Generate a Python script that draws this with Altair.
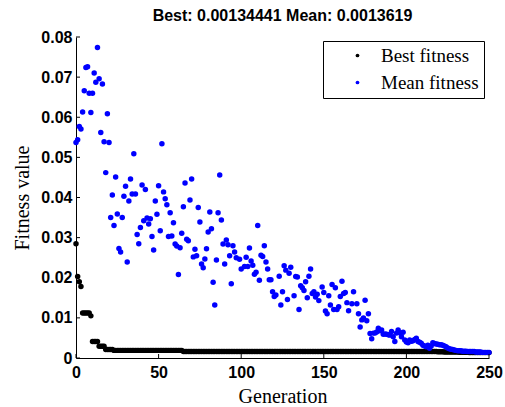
import altair as alt
import pandas as pd

# ---- data ----
best_runs = [  # (value, number of consecutive generations), generations 0..250
    (0.0285, 1), (0.0203, 1), (0.0190, 1), (0.0178, 1), (0.0112, 5), (0.0105, 1),
    (0.0041, 4), (0.0029, 4), (0.0021, 5), (0.0019, 42), (0.0016, 154),
    (0.00158, 4), (0.00152, 4), (0.00147, 5), (0.00142, 6), (0.00138, 7), (0.00134, 6),
]

mean_gen = [
    0, 1, 2, 3, 4, 5, 6, 7, 8, 9, 10, 11, 12, 13, 14, 15, 16, 17, 18, 19,
    20, 21, 22, 23, 24, 25, 26, 27, 28, 29, 30, 31, 32, 33, 34, 35, 36, 37, 38, 39,
    40, 41, 42, 43, 44, 45, 46, 47, 48, 49, 50, 51, 52, 53, 54, 55, 56, 57, 58, 59,
    60, 61, 62, 63, 64, 65, 66, 67, 68, 69, 70, 71, 72, 73, 74, 75, 76, 77, 78, 79,
    80, 81, 82, 83, 84, 85, 86, 87, 88, 89, 90, 91, 92, 93, 94, 95, 96, 97, 99,
    100, 102, 103, 104, 105, 106, 107, 108, 109, 110, 111, 112, 113, 114, 115, 116, 117, 118, 119,
    120, 121, 123, 124, 125, 126, 127, 128, 129, 130, 132, 133, 134, 135, 136, 137, 138, 139,
    140, 141, 142, 143, 144, 145, 146, 147, 149, 150, 151, 152, 153, 154, 155, 156, 157, 158, 159,
    160, 161, 162, 163, 164, 165, 167, 168, 170, 171, 172, 173, 174, 175, 176, 177, 178, 179,
    180, 181, 182, 183, 184, 185, 186, 187, 188, 189, 190, 191, 192, 193, 194, 195, 196, 197, 198, 199,
    200, 201, 202, 203, 204, 205, 206, 207, 208, 209, 210, 211, 212, 213, 214, 215, 216, 217, 218, 219,
    220, 221, 222, 223, 224, 225, 226, 227, 228, 229, 230, 231, 232, 233, 234, 235, 236, 237, 238, 239,
    240, 241, 242, 243, 244, 245, 246, 247, 248, 249, 250,
]
mean_val = [
    0.0537, 0.0544, 0.0577, 0.0571, 0.0613, 0.0666, 0.0724, 0.0726, 0.0660, 0.0612,
    0.0660, 0.0710, 0.0687, 0.0774, 0.0696, 0.0562, 0.0683, 0.0539, 0.0462, 0.0609,
    0.0537, 0.0350, 0.0406, 0.0330, 0.0451, 0.0359, 0.0273, 0.0264, 0.0350, 0.0403,
    0.0428, 0.0239, 0.0391, 0.0446, 0.0409, 0.0509, 0.0409, 0.0308, 0.0285, 0.0325,
    0.0431, 0.0342, 0.0420, 0.0349, 0.0334, 0.0347, 0.0303, 0.0269, 0.0391, 0.0358,
    0.0429, 0.0317, 0.0534, 0.0414, 0.0397, 0.0382, 0.0303, 0.0362, 0.0304, 0.0337,
    0.0284, 0.0279, 0.0208, 0.0275, 0.0311, 0.0377, 0.0436, 0.0296, 0.0292, 0.0394,
    0.0446, 0.0252, 0.0271, 0.0255, 0.0375, 0.0339, 0.0234, 0.0225, 0.0247, 0.0272,
    0.0314, 0.0364, 0.0322, 0.0189, 0.0132, 0.0244, 0.0362, 0.0456, 0.0344, 0.0284,
    0.0234, 0.0294, 0.0282, 0.0255, 0.0185, 0.0280, 0.0264, 0.0250, 0.0246,
    0.0222, 0.0228, 0.0251, 0.0228, 0.0274, 0.0242, 0.0231, 0.0209, 0.0214, 0.0330,
    0.0194, 0.0256, 0.0253, 0.0280, 0.0239, 0.0222, 0.0195, 0.0195, 0.0165,
    0.0153, 0.0157, 0.0204, 0.0132, 0.0165, 0.0230, 0.0219, 0.0146, 0.0211, 0.0226,
    0.0155, 0.0203, 0.0202, 0.0121, 0.0180, 0.0175, 0.0168, 0.0190,
    0.0150, 0.0204, 0.0222, 0.0161, 0.0165, 0.0152, 0.0159, 0.0143, 0.0177, 0.0163,
    0.0117, 0.0110, 0.0155, 0.0132, 0.0183, 0.0121, 0.0175, 0.0121, 0.0128,
    0.0153, 0.0191, 0.0161, 0.0163, 0.0138, 0.0118, 0.0135, 0.0165, 0.0135, 0.0110,
    0.0077, 0.0095, 0.0100, 0.0144, 0.0093, 0.0110, 0.0061, 0.0048,
    0.0062, 0.0062, 0.0065, 0.0074, 0.0068, 0.0070, 0.0059, 0.0060, 0.0059, 0.0058,
    0.0057, 0.0066, 0.0053, 0.0041, 0.0062, 0.0070, 0.0063, 0.0053, 0.0064, 0.0045,
    0.0040, 0.0038, 0.0045, 0.0042, 0.0043, 0.0046, 0.0049, 0.0041, 0.0039, 0.0037,
    0.0032, 0.0030, 0.0028, 0.0032, 0.0024, 0.0030, 0.0038, 0.0036, 0.0035, 0.0034,
    0.0033, 0.0033, 0.0032, 0.0030, 0.0028, 0.0025, 0.0023, 0.0022, 0.0021, 0.0020,
    0.0019, 0.0018, 0.0018, 0.0018, 0.0017, 0.0017, 0.0017, 0.0016, 0.0016, 0.0016,
    0.0016, 0.0016, 0.0015, 0.0015, 0.0015, 0.0015, 0.0014, 0.0014, 0.0014, 0.0014,
    0.00136,
]

x_ticks = [0, 50, 100, 150, 200, 250]
y_ticks = [0, 0.01, 0.02, 0.03, 0.04, 0.05, 0.06, 0.07, 0.08]
series_names = ["Best fitness", "Mean fitness"]
series_colors = ["#000000", "#0000FF"]
title_text = "Best: 0.00134441 Mean: 0.0013619"

# ---- build table ----
best_val = []
for v, n in best_runs:
    best_val.extend([v] * n)
best_gen = list(range(len(best_val)))

df = pd.concat([
    pd.DataFrame({"gen": best_gen, "val": best_val, "series": series_names[0]}),
    pd.DataFrame({"gen": mean_gen, "val": mean_val, "series": series_names[1]}),
], ignore_index=True)

W, H = 413, 321

xscale = alt.Scale(domain=[0, 250], nice=False)
yscale = alt.Scale(domain=[0, 0.08], nice=False)

points = alt.Chart(df).mark_circle(size=30, opacity=1).encode(
    x=alt.X("gen:Q", scale=xscale,
            axis=alt.Axis(title="Generation", values=x_ticks, ticks=False, grid=False,
                          labelFlush=False, labelPadding=6, titleY=44,
                          titleBaseline="alphabetic")),
    y=alt.Y("val:Q", scale=yscale,
            axis=alt.Axis(title="Fitness value", values=y_ticks, format=".2~f", ticks=False,
                          grid=False, labelFlush=False, labelPadding=4, titleX=-48,
                          titleY=H / 2, titleBaseline="alphabetic", titleAlign="center")),
    color=alt.Color("series:N",
                    scale=alt.Scale(domain=series_names, range=series_colors),
                    legend=alt.Legend(title=None, orient="none", legendX=247, legendY=4,
                                      symbolType="circle", symbolSize=14, symbolStrokeWidth=0,
                                      symbolOffset=20, labelOffset=14,
                                      labelFont="Liberation Serif", labelFontSize=19,
                                      labelColor="black", rowPadding=7, padding=5,
                                      strokeColor="black", fillColor="white")),
)

xt = alt.Chart(pd.DataFrame({"t": x_ticks})).mark_rule(color="black", strokeWidth=1).encode(
    x=alt.X("t:Q", scale=xscale), y=alt.value(H), y2=alt.value(H - 4)
)
yt = alt.Chart(pd.DataFrame({"t": y_ticks})).mark_rule(color="black", strokeWidth=1).encode(
    y=alt.Y("t:Q", scale=yscale), x=alt.value(0), x2=alt.value(4)
)

chart = alt.layer(points, xt, yt).properties(
    width=W, height=H,
    background="white",
    title=alt.TitleParams(title_text, font="Liberation Sans", fontSize=16, fontWeight="bold",
                          anchor="middle", frame="group", offset=5, color="black"),
    autosize=alt.AutoSizeParams(type="none"),
    padding={"left": 76, "top": 37, "right": 16, "bottom": 49},
).configure_axis(
    domainColor="black", domainWidth=1,
    labelFont="Liberation Sans", labelFontSize=16, labelFontWeight="bold", labelColor="black",
    titleFont="Liberation Serif", titleFontSize=20, titleFontWeight="normal", titleColor="black",
).configure_view(stroke="transparent")

chart.save("out.html", embed_options={"renderer": "svg", "actions": False})
